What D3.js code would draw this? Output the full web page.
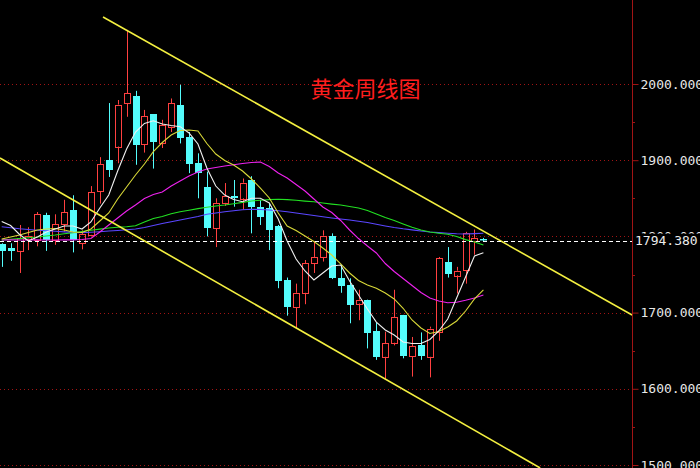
<!DOCTYPE html>
<html><head><meta charset="utf-8">
<script src="https://cdn.jsdelivr.net/npm/d3@7/dist/d3.min.js"></script>
<style>html,body{margin:0;padding:0;background:#000;overflow:hidden}</style>
</head><body><svg id="c" width="700" height="468"></svg>
<script>
// ---- data (weekly gold candles) ----
const title = "黄金周线图";
const open  = [1790,1785,1781,1797,1795,1828,1795,1816,1835,1791, 1802,1859,1900,1918,1975,1984,1921,1960,1923,1944, 1973,1931,1896,1865,1811,1844,1853,1850,1874,1839, 1837,1813,1743,1707,1726,1765,1773,1801,1746,1736, 1712,1717,1676,1642,1660.5,1697,1643,1657.5,1642,1674, 1766,1749,1755,1794,1796];
const high  = [1791,1791,1815,1812,1832,1831,1829,1848,1854,1808, 1866,1904,1975,1979,2071,1991,1966,1960,1953,1981, 1999,1937,1909,1885,1850,1870,1874,1876,1879,1848, 1843,1815,1746,1738,1769,1794,1808,1804,1762.5,1745, 1730,1717,1687,1675,1730,1697,1668,1674,1681.5,1773, 1786,1760,1806,1809,1798];
const low   = [1760,1768,1752,1782,1787,1781,1789,1806,1779,1783, 1800,1843,1878,1896,1957,1894,1910,1889,1916,1937, 1922,1883,1850,1800,1786,1840,1839,1835,1804,1815, 1782,1732,1696,1679,1711,1752,1767,1744,1726,1686, 1690,1653,1638,1612,1657,1640,1616,1638,1615,1663, 1746,1725,1738,1776,1793];
const close = [1781,1781,1797.5,1801,1829,1795,1816,1832,1795,1803, 1858,1895,1887,1973,1988,1920,1958,1923,1946,1975, 1930,1896,1883,1811,1844,1853,1850,1870.5,1839,1826, 1808,1741,1707,1726,1765,1773,1801,1746,1735,1710, 1717,1674,1642,1660,1694,1643,1656,1643,1679,1771, 1750,1755,1804,1798,1794.38];
const ma5  = [1819.6,1814.3,1802.5,1794,1799.2,1805.8,1809.7,1813.7,1813.7,1809.7, 1818.9,1837.3,1854.3,1885.8,1914.7,1937,1948.2,1951.8,1947.5,1945.5, 1944,1935.7,1921.3,1889.8,1866.1,1854.3,1848.4,1845.5,1850,1850, 1843.8,1822.8,1794,1770.4,1754.6,1742.8,1752,1761.2,1762.5,1741.5, 1723.1,1704.7,1687.6,1677.2,1670.6,1661.4,1659.5,1659.5,1664.7,1675.9, 1691.6,1719.2,1746.7,1774.3,1778.6];
const ma10 = [1796.6,1799.2,1801.8,1805.1,1808.4,1809.7,1810.4,1808.4,1805.8,1805.1, 1809.7,1820.2,1830.7,1849.1,1864.8,1880.6,1895,1911.2,1923.2,1933.1, 1939,1939.6,1938.3,1921.9,1908.1,1899.6,1893.7,1885.8,1875.3,1863.5, 1850.4,1830.7,1813.7,1807.7,1800.5,1793.3,1784.8,1775.6,1763.8,1752, 1742.1,1736.2,1732,1725.7,1717.9,1705.7,1690.3,1679.8,1672.6,1675.2, 1681.1,1689,1702.1,1717.9,1729.7];
const ma20 = [1795.3,1795.4,1795.2,1795.3,1795.5,1795.3,1795.2,1795.4,1795.5,1795.9, 1797.2,1805.8,1815,1824.2,1833.3,1841.2,1849.7,1855,1858.3,1866.1, 1872.7,1879.3,1884.5,1888.5,1890.4,1892.4,1894,1895.7,1897,1897.6, 1891.7,1883.2,1876.6,1868.1,1859.6,1849.1,1838.6,1831.4,1820.9,1808.4, 1797.2,1787.4,1778.2,1764.4,1753.9,1744.8,1735.6,1726.4,1719.2,1715.2, 1713,1713.5,1716.2,1719.2,1723.1];
const ma40 = [1795.3,1796.2,1797.1,1798.2,1799.2,1800.5,1801.8,1803.4,1804.7,1806.4, 1808.1,1809.5,1811,1812.1,1812.7,1813.9,1818.9,1823.5,1826.1,1829.7, 1832.4,1834.3,1836.4,1838.2,1839.9,1841.2,1842.9,1844.6,1846.5,1847.4, 1848.3,1848.7,1848.3,1847.4,1846.3,1845.4,1843.8,1842.4,1841.2,1839.2, 1837.3,1834,1829.4,1824.8,1820.9,1816.3,1811.9,1808.4,1805.8,1804.2, 1802.8,1799.9,1795.8,1792.7,1788.7];
const ma60 = [1812.6,1811.3,1810,1809.1,1808.1,1807.4,1806.7,1805.9,1805.3,1805, 1805.5,1806.2,1807.1,1807.8,1808.7,1809.7,1811.7,1814.3,1816.9,1819.3, 1821.5,1823.9,1826.1,1829,1830.7,1832.4,1833.7,1834.9,1835.6,1835.3, 1834.7,1833.6,1832.3,1830.7,1829.1,1827.4,1825.7,1824.2,1822.8,1821.5, 1819.8,1818.2,1815.9,1813.7,1811.7,1810,1808.6,1807.1,1805.8,1805, 1804.2,1803.4,1803.2,1803.6,1804.1];
const yTicks = [1500,1600,1700,1800,1900,2000];
const yMinorTicks = [1550,1650,1750,1850,1950];
const lastPrice = 1794.38;
const upperChannel = [[11.36,2087.9],[70.67,1696.9]];
const lowerChannel = [[-0.19,1902.9],[60.36,1496.1]];

// ---- drawing ----
const W = 700, H = 468, axisX = 632;
const svg = d3.select("#c");
svg.append("rect").attr("width",W).attr("height",H).attr("fill","#000");
svg.append("defs").append("clipPath").attr("id","plot")
  .append("rect").attr("x",0).attr("y",0).attr("width",axisX).attr("height",H);

const x = d3.scaleLinear().domain([0,54]).range([1.7,483.4]);
const y = d3.scaleLinear().domain([1500,2000]).range([465,84]);

const RED = "#ff4040", CYAN = "#54fcfc", GRID = "#a01414";

// grid
svg.append("g").selectAll("line").data(yTicks).join("line")
  .attr("x1",0).attr("x2",axisX)
  .attr("y1",d=>Math.round(y(d))+0.5).attr("y2",d=>Math.round(y(d))+0.5)
  .attr("stroke",GRID).attr("stroke-width",1).attr("stroke-dasharray","1,3");

const plot = svg.append("g").attr("clip-path","url(#plot)");

// candles
const idx = open.map((d,i)=>i);
const cg = plot.append("g");
idx.forEach(i=>{
  const cx = Math.round(x(i)) + 0.5;
  const up = close[i] >= open[i];
  const top = y(Math.max(open[i],close[i])), bot = y(Math.min(open[i],close[i]));
  const col = up ? RED : CYAN;
  if (up) {
    cg.append("line").attr("x1",cx).attr("x2",cx).attr("y1",y(high[i])).attr("y2",top).attr("stroke",col);
    cg.append("line").attr("x1",cx).attr("x2",cx).attr("y1",bot).attr("y2",y(low[i])).attr("stroke",col);
    cg.append("rect").attr("x",cx-3).attr("y",Math.round(top)+0.5).attr("width",6)
      .attr("height",Math.max(1,Math.round(bot-top))).attr("fill","none").attr("stroke",col);
  } else {
    cg.append("line").attr("x1",cx).attr("x2",cx).attr("y1",y(high[i])).attr("y2",y(low[i])).attr("stroke",col);
    cg.append("rect").attr("x",cx-3.5).attr("y",Math.round(top)).attr("width",7)
      .attr("height",Math.max(1.5,Math.round(bot-top))).attr("fill",col);
  }
});

// moving averages
const mas = [
  {v:ma60, c:"#5a46ff"},
  {v:ma40, c:"#22e022"},
  {v:ma20, c:"#ee22ee"},
  {v:ma10, c:"#d8d838"},
  {v:ma5,  c:"#f0f0f0"}
];
const line = d3.line().x((d,i)=>x(i)).y(d=>y(d));
plot.append("g").selectAll("path").data(mas).join("path")
  .attr("d",d=>line(d.v)).attr("fill","none").attr("stroke",d=>d.c).attr("stroke-width",1.1);

// channel lines
const cline = d3.line().x(d=>x(d[0])).y(d=>y(d[1]));
plot.append("g").selectAll("path").data([upperChannel,lowerChannel]).join("path")
  .attr("d",cline).attr("fill","none").attr("stroke","#f4f040").attr("stroke-width",1.6);

// last price dashed line
svg.append("line").attr("x1",0).attr("x2",axisX)
  .attr("y1",Math.round(y(lastPrice))+0.5).attr("y2",Math.round(y(lastPrice))+0.5)
  .attr("stroke","#ffffff").attr("stroke-dasharray","4,3");

// title
svg.append("text").attr("x",365.5).attr("y",89).attr("text-anchor","middle").attr("dy","0.36em")
  .attr("fill","#ff1e1e").attr("font-family","'Noto Sans CJK SC',sans-serif").attr("font-size",22)
  .text(title);

// axis
svg.append("line").attr("x1",axisX+0.5).attr("x2",axisX+0.5).attr("y1",0).attr("y2",H)
  .attr("stroke",GRID).attr("stroke-width",1);
const ax = svg.append("g").attr("transform",`translate(${axisX+0.5},0)`)
  .call(d3.axisRight(y).tickValues(yTicks).tickSize(6).tickPadding(2).tickFormat(d3.format(".3f")));
ax.select(".domain").remove();
ax.selectAll(".tick line").attr("stroke",GRID);
ax.selectAll(".tick text").attr("fill","#e8e8e8").attr("font-family","'DejaVu Sans Mono',monospace").attr("font-size",13);
svg.append("g").selectAll("line").data(yMinorTicks).join("line")
  .attr("x1",axisX).attr("x2",axisX+3)
  .attr("y1",d=>Math.round(y(d))+0.5).attr("y2",d=>Math.round(y(d))+0.5)
  .attr("stroke",GRID);

// last price label (drawn over the 1800 label, as in the reference)
const ly = y(lastPrice);
svg.append("rect").attr("x",axisX+1).attr("y",ly-7).attr("width",W-axisX).attr("height",16).attr("fill","#000");
svg.append("text").attr("x",axisX+3).attr("y",ly).attr("dy","0.36em")
  .attr("fill","#ececec").attr("font-family","'DejaVu Sans Mono',monospace").attr("font-size",13)
  .text(d3.format(".3f")(lastPrice));
</script></body></html>
